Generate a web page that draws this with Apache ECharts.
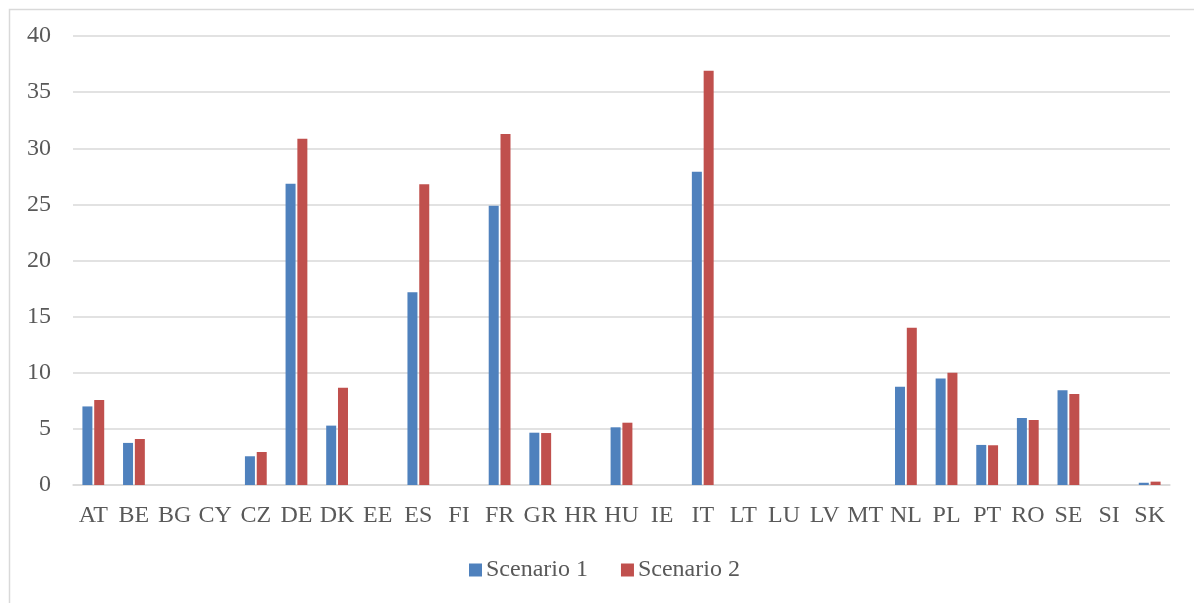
<!DOCTYPE html>
<html>
<head>
<meta charset="utf-8">
<script src="https://cdn.jsdelivr.net/npm/echarts@6/dist/echarts.min.js"></script>
<style>
html,body{margin:0;padding:0;background:#fff;}
#chart{width:1194px;height:603px;}
</style>
</head>
<body>
<div id="chart"></div>
<script>
const categories = ["AT","BE","BG","CY","CZ","DE","DK","EE","ES","FI","FR","GR","HR","HU","IE","IT","LT","LU","LV","MT","NL","PL","PT","RO","SE","SI","SK"];
const scenario1 = [7.0, 3.75, 0, 0, 2.56, 26.83, 5.29, 0, 17.17, 0, 24.87, 4.66, 0, 5.14, 0, 27.9, 0, 0, 0, 0, 8.76, 9.48, 3.57, 5.97, 8.44, 0, 0.2];
const scenario2 = [7.57, 4.1, 0, 0, 2.94, 30.84, 8.67, 0, 26.8, 0, 31.28, 4.63, 0, 5.55, 0, 36.9, 0, 0, 0, 0, 14.02, 10.0, 3.54, 5.79, 8.11, 0, 0.3];
const seriesNames = ["Scenario 1", "Scenario 2"];
const yTicks = { min: 0, max: 40, interval: 5 };

const FONT = '"Liberation Serif", "DejaVu Serif", serif';
const TEXT = '#595959';
const chart = echarts.init(document.getElementById('chart'));
chart.setOption({
  animation: false,
  backgroundColor: '#fff',
  graphic: [{
    type: 'rect', left: 7, top: 7,
    shape: { width: 1250, height: 610 },
    style: { fill: 'none', stroke: '#d9d9d9', lineWidth: 1.5 },
    silent: true
  }],
  grid: { left: 73, right: 24, top: 36, bottom: 118, containLabel: false },
  legend: {
    left: 464, top: 553,
    itemWidth: 13, itemHeight: 13, itemGap: 33,
    icon: 'rect',
    textStyle: { fontFamily: FONT, fontSize: 24, color: TEXT, padding: [0,0,0,-1] },
    data: seriesNames
  },
  xAxis: {
    type: 'category',
    data: categories,
    axisLine: { show: true, lineStyle: { color: '#d9d9d9', width: 1.5 } },
    axisTick: { show: false },
    axisLabel: { interval: 0, fontFamily: FONT, fontSize: 24, color: TEXT, margin: 19 }
  },
  yAxis: {
    type: 'value',
    min: yTicks.min, max: yTicks.max, interval: yTicks.interval,
    axisLine: { show: false },
    axisTick: { show: false },
    splitLine: { lineStyle: { color: '#d9d9d9', width: 1.5 } },
    axisLabel: { fontFamily: FONT, fontSize: 24, color: TEXT, margin: 22 }
  },
  series: [
    { name: seriesNames[0], type: 'bar', data: scenario1, barWidth: 10, barGap: '18%',
      itemStyle: { color: '#4F81BD', borderWidth: 0 } },
    { name: seriesNames[1], type: 'bar', data: scenario2, barWidth: 10,
      itemStyle: { color: '#C0504D', borderWidth: 0 } }
  ]
});
</script>
</body>
</html>
